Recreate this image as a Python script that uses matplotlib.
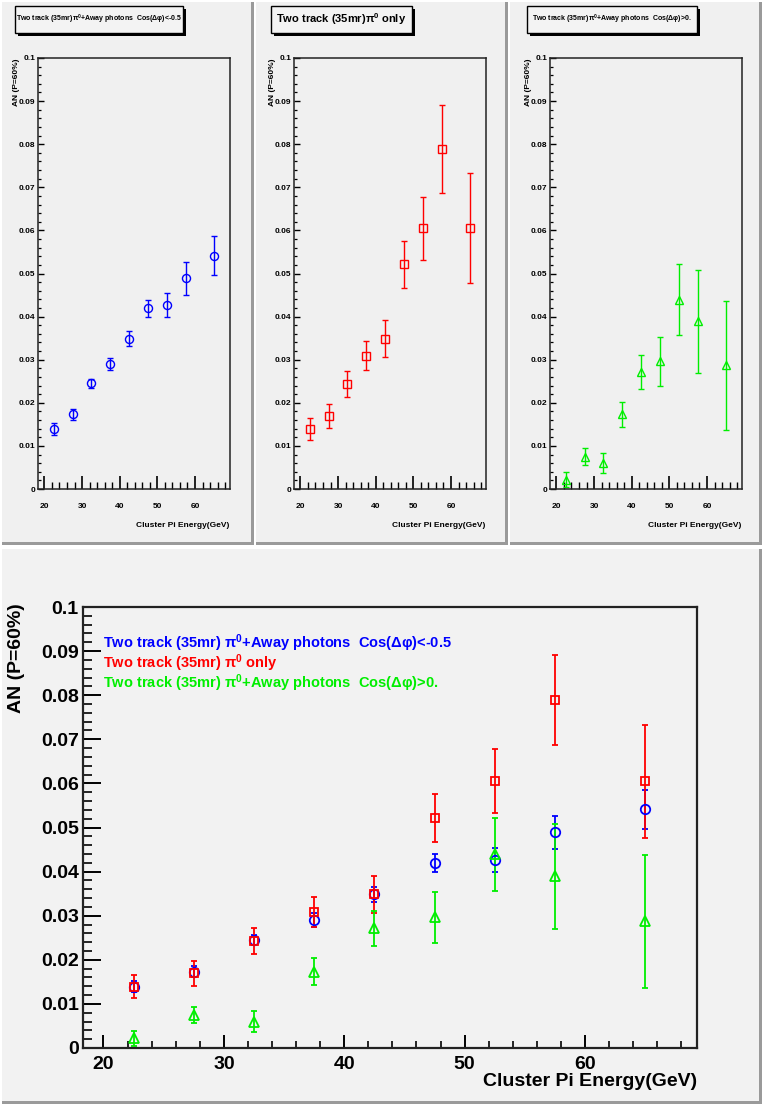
import matplotlib
matplotlib.use("Agg")
import matplotlib.pyplot as plt
from matplotlib.patches import Rectangle
from matplotlib.ticker import MultipleLocator, FixedLocator, FixedFormatter

# ---------------- data ----------------
energy = [22.5, 27.5, 32.5, 37.5, 42.5, 47.5, 52.5, 57.5, 65.0]
an_away_back = [0.0139, 0.0173, 0.0245, 0.0290, 0.0349, 0.0419, 0.0426, 0.0489, 0.0541]
err_away_back = [0.0013, 0.0012, 0.0011, 0.0015, 0.0017, 0.0020, 0.0028, 0.0038, 0.0045]
an_only = [0.0139, 0.0169, 0.0243, 0.0309, 0.0349, 0.0521, 0.0605, 0.0789, 0.0605]
err_only = [0.0026, 0.0028, 0.0030, 0.0034, 0.0042, 0.0055, 0.0073, 0.0103, 0.0128]
an_away_same = [0.0022, 0.0075, 0.0060, 0.0173, 0.0271, 0.0296, 0.0439, 0.0389, 0.0287]
err_away_same = [0.0017, 0.0019, 0.0024, 0.0030, 0.0040, 0.0057, 0.0082, 0.0120, 0.0150]

labels = ["Two track (35mr)π$^{0}$+Away photons  Cos(Δφ)<-0.5",
          "Two track (35mr)π$^{0}$ only",
          "Two track (35mr)π$^{0}$+Away photons  Cos(Δφ)>0."]
legend_labels = ["Two track (35mr) π$^{0}$+Away photons  Cos(Δφ)<-0.5",
                 "Two track (35mr) π$^{0}$ only",
                 "Two track (35mr) π$^{0}$+Away photons  Cos(Δφ)>0."]
y_ticks = [0, 0.01, 0.02, 0.03, 0.04, 0.05, 0.06, 0.07, 0.08, 0.09, 0.1]
y_ticklabels = ["0", "0.01", "0.02", "0.03", "0.04", "0.05", "0.06", "0.07", "0.08", "0.09", "0.1"]
x_ticks = [20, 30, 40, 50, 60]
x_ticklabels = ["20", "30", "40", "50", "60"]
xlabel = "Cluster Pi Energy(GeV)"
ylabel = "AN (P=60%)"

series = [
    (an_away_back, err_away_back, "#0000ff", "o"),
    (an_only, err_only, "#ff0000", "s"),
    (an_away_same, err_away_same, "#00ee00", "^"),
]

plt.rcParams["font.family"] = ["Liberation Sans", "DejaVu Sans"]
plt.rcParams["font.weight"] = "bold"
plt.rcParams["mathtext.fontset"] = "custom"
plt.rcParams["mathtext.rm"] = "Liberation Sans:bold"
plt.rcParams["mathtext.it"] = "Liberation Sans:bold"
plt.rcParams["mathtext.bf"] = "Liberation Sans:bold"

W, H = 762, 1104
fig = plt.figure(figsize=(W / 100, H / 100), dpi=100)
fig.patch.set_facecolor("white")


def frac(x0, y0, x1, y1):
    return [x0 / W, 1 - y1 / H, (x1 - x0) / W, (y1 - y0) / H]


def pad(x0, y0, x1, y1, face):
    fig.patches.append(Rectangle((x0 / W, 1 - y1 / H), (x1 - x0) / W, (y1 - y0) / H,
                                 transform=fig.transFigure, facecolor=face,
                                 edgecolor="none", zorder=-10))
    fig.patches.append(Rectangle((x1 / W - 3 / W, 1 - y1 / H), 3 / W, (y1 - y0) / H,
                                 transform=fig.transFigure, facecolor="#9a9a9a",
                                 edgecolor="none", zorder=-9))
    fig.patches.append(Rectangle((x0 / W, 1 - y1 / H), (x1 - x0) / W, 3 / H,
                                 transform=fig.transFigure, facecolor="#9a9a9a",
                                 edgecolor="none", zorder=-9))


def title_box(x0, y0, x1, y1, text, fs):
    fig.patches.append(Rectangle(((x0 + 3) / W, 1 - (y1 + 3) / H), (x1 - x0) / W, (y1 - y0) / H,
                                 transform=fig.transFigure, facecolor="black",
                                 edgecolor="none", zorder=1))
    fig.patches.append(Rectangle((x0 / W, 1 - y1 / H), (x1 - x0) / W, (y1 - y0) / H,
                                 transform=fig.transFigure, facecolor="#f3f3f3",
                                 edgecolor="black", linewidth=1.0, zorder=2))
    fig.text((x0 + x1) / 2 / W, 1 - (y0 + y1) / 2 / H, text, ha="center", va="center",
             fontsize=fs, fontweight="bold", zorder=3)


def style_axes(ax, big):
    ax.set_xlim(18.3, 69.3)
    ax.set_ylim(0, 0.1)
    ax.set_facecolor("none")
    ax.yaxis.set_major_locator(FixedLocator(y_ticks))
    ax.yaxis.set_major_formatter(FixedFormatter(y_ticklabels))
    ax.yaxis.set_minor_locator(MultipleLocator(0.002))
    ax.xaxis.set_major_locator(FixedLocator(x_ticks))
    ax.xaxis.set_major_formatter(FixedFormatter(x_ticklabels))
    ax.xaxis.set_minor_locator(MultipleLocator(2))
    lw = 1.6 if big else 1.1
    for s in ax.spines.values():
        s.set_linewidth(lw)
        s.set_color("#222222")
    if big:
        ax.tick_params(axis="y", which="major", direction="in", length=13, width=1.4,
                       labelsize=14, pad=3)
        ax.tick_params(axis="y", which="minor", direction="in", length=6.5, width=1.2)
        ax.tick_params(axis="x", which="major", direction="in", length=9.5, width=1.4,
                       labelsize=14, pad=6)
        ax.tick_params(axis="x", which="minor", direction="in", length=4.7, width=1.2)
    else:
        ax.tick_params(axis="y", which="major", direction="in", length=4.5, width=1.0,
                       labelsize=6, pad=2)
        ax.tick_params(axis="y", which="minor", direction="in", length=2.2, width=0.9)
        ax.tick_params(axis="x", which="major", direction="in", length=9.5, width=1.2,
                       labelsize=6, pad=10)
        ax.tick_params(axis="x", which="minor", direction="in", length=5, width=1.0)
    ax.tick_params(top=False, right=False)
    for lab in ax.get_xticklabels() + ax.get_yticklabels():
        lab.set_fontweight("bold")


def draw_series(ax, vals, errs, color, marker, ms, lw):
    ax.errorbar(energy, vals, yerr=errs, fmt=marker, color=color, ecolor=color,
                markerfacecolor="none", markeredgecolor=color, markersize=ms,
                markeredgewidth=lw, elinewidth=lw, capsize=2, capthick=lw)


# ---------------- top pads ----------------
top_pads = [(2, 2, 254, 545), (256, 2, 508, 545), (510, 2, 762, 545)]
top_axes_px = [(38, 58, 230, 489), (294, 58, 486, 489), (550, 58, 742, 489)]
boxes = [(15, 6, 183, 33, 5.0), (271, 6, 412, 33, 8.0), (527, 6, 697, 33, 5.0)]

for i in range(3):
    pad(*top_pads[i], face="#f0f0f0")
    bx = boxes[i]
    title_box(bx[0], bx[1], bx[2], bx[3], labels[i], bx[4])
    ax = fig.add_axes(frac(*top_axes_px[i]))
    style_axes(ax, big=False)
    vals, errs, color, marker = series[i]
    draw_series(ax, vals, errs, color, marker, 5.8 if marker != "s" else 5.3, 1.0)
    ax0 = top_axes_px[i]
    fig.text((ax0[0] - 21) / W, 1 - ax0[1] / H, ylabel, rotation=90, ha="center", va="top",
             fontsize=6, fontweight="bold")
    fig.text((ax0[2] - 1) / W, 1 - 525 / H, xlabel, ha="right", va="center",
             fontsize=6, fontweight="bold")

# ---------------- bottom pad ----------------
pad(2, 549, 762, 1104, face="#f2f2f2")
axb = fig.add_axes(frac(83, 607, 697, 1048))
style_axes(axb, big=True)
for vals, errs, color, marker in series:
    draw_series(axb, vals, errs, color, marker, 6.8 if marker != "s" else 6.2, 1.3)

fig.text(17 / W, 1 - 603 / H, ylabel, rotation=90, ha="center", va="top",
         fontsize=14, fontweight="bold")
fig.text(697 / W, 1 - 1082 / H, xlabel, ha="right", va="center",
         fontsize=14, fontweight="bold")

leg_y = [643, 663, 683]
for (vals, errs, color, marker), lab, yy in zip(series, legend_labels, leg_y):
    fig.text(103 / W, 1 - yy / H, lab, ha="left", va="center", color=color,
             fontsize=10.5, fontweight="bold")

fig.savefig("out.png", dpi=100, facecolor=fig.get_facecolor())
